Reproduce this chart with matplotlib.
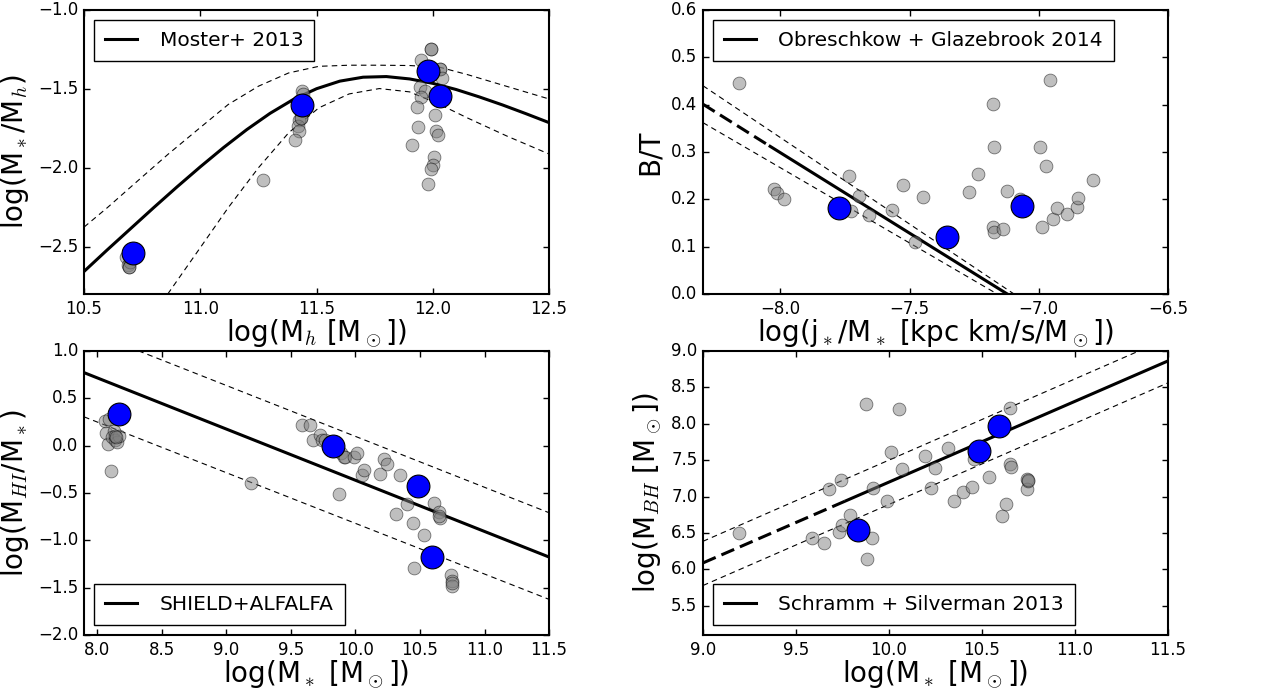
import matplotlib
matplotlib.use("Agg")
import matplotlib.pyplot as plt

plt.style.use("classic")
plt.rcParams["mathtext.fontset"] = "cm"
plt.rcParams["font.family"] = ["DejaVu Sans"]

# --- panel 1: stellar-to-halo mass ---
moster_x = [10.5, 10.6, 10.7, 10.8, 10.9, 11.0, 11.1, 11.2, 11.3, 11.4, 11.5,
            11.6, 11.7, 11.8, 11.9, 12.0, 12.1, 12.2, 12.3, 12.4, 12.5]
moster_y = [-2.657, -2.520, -2.386, -2.252, -2.121, -1.994, -1.872, -1.758, -1.655,
            -1.567, -1.499, -1.451, -1.426, -1.422, -1.437, -1.465, -1.504, -1.551,
            -1.602, -1.657, -1.714]
moster_up_x = [10.5, 10.6, 10.73, 10.86, 10.99, 11.12, 11.25, 11.38, 11.51, 11.64,
               11.77, 11.9, 12.03, 12.15, 12.32, 12.5]
moster_up_y = [-2.376, -2.253, -2.084, -1.916, -1.757, -1.599, -1.483, -1.399, -1.357,
               -1.350, -1.350, -1.352, -1.363, -1.41, -1.485, -1.564]
moster_lo_x = [10.86, 10.99, 11.12, 11.25, 11.38, 11.51, 11.64, 11.77, 11.9, 12.03,
               12.15, 12.32, 12.5]
moster_lo_y = [-2.8, -2.527, -2.253, -2.0, -1.778, -1.620, -1.532, -1.498, -1.519,
               -1.599, -1.685, -1.80, -1.913]
sim1_x = [10.681, 10.691, 10.693, 10.698, 10.693, 11.438, 11.441, 11.437, 11.431,
          11.425, 11.420, 11.423, 11.408, 11.271, 11.994, 11.994, 11.948, 12.032,
          12.032, 12.039, 11.946, 11.968, 11.951, 11.930, 12.011, 11.938, 12.013,
          12.021, 11.911, 12.006, 11.999, 11.994, 11.978, 11.437, 11.431]
sim1_y = [-2.568, -2.617, -2.627, -2.595, -2.627, -1.511, -1.532, -1.631, -1.684,
          -1.695, -1.737, -1.765, -1.822, -2.076, -1.246, -1.246, -1.316, -1.373,
          -1.373, -1.430, -1.489, -1.515, -1.553, -1.614, -1.663, -1.739, -1.765,
          -1.790, -1.854, -1.934, -1.981, -2.006, -2.102, -1.631, -1.684]
main1_x = [10.709, 11.438, 11.981, 12.030]
main1_y = [-2.538, -1.604, -1.388, -1.544]

# --- panel 2: bulge fraction vs specific angular momentum ---
og_dash_x = [-8.3, -8.04]
og_dash_y = [0.401, 0.312]
og_x = [-8.04, -7.122]
og_y = [0.312, 0.0]
og_up_x = [-8.3, -7.096]
og_up_y = [0.44, 0.0]
og_lo_x = [-8.3, -7.161]
og_lo_y = [0.362, 0.0]
sim2_x = [-8.159, -8.024, -8.013, -7.986, -7.733, -7.725, -7.694, -7.656, -7.569,
          -7.526, -7.478, -7.450, -7.270, -7.234, -7.179, -7.172, -7.179, -7.172,
          -7.138, -7.125, -7.073, -6.997, -6.973, -6.987, -6.958, -6.945, -6.931,
          -6.892, -6.853, -6.847, -6.792]
sim2_y = [0.446, 0.221, 0.213, 0.200, 0.250, 0.175, 0.207, 0.167, 0.178, 0.231,
          0.109, 0.204, 0.215, 0.254, 0.401, 0.311, 0.142, 0.132, 0.137, 0.217,
          0.200, 0.311, 0.270, 0.142, 0.452, 0.158, 0.182, 0.170, 0.183, 0.203,
          0.240]
main2_x = [-7.775, -7.357, -7.064]
main2_y = [0.181, 0.120, 0.185]

# --- panel 3: HI fraction ---
hi_x = [7.9, 11.5]
hi_y = [0.771, -1.177]
hi_up_x = [7.9, 11.5]
hi_up_y = [1.228, -0.709]
hi_lo_x = [7.9, 11.5]
hi_lo_y = [0.304, -1.624]
sim3_x = [8.064, 8.090, 8.070, 8.085, 8.111, 8.129, 8.116, 8.142, 8.155, 8.170,
          8.137, 8.149, 9.193, 9.585, 9.649, 9.675, 9.729, 9.745, 9.765, 9.876,
          9.889, 9.915, 9.920, 9.990, 10.015, 10.054, 10.070, 10.193, 10.224,
          10.242, 10.314, 10.348, 10.397, 10.443, 10.456, 10.534, 10.606, 10.649,
          10.652, 10.649, 10.740, 10.745, 10.745, 10.745]
sim3_y = [0.258, 0.286, 0.135, 0.012, -0.266, 0.156, 0.093, 0.064, 0.040, 0.103,
          0.100, 0.086, -0.393, 0.223, 0.216, 0.064, 0.110, 0.057, 0.064, -0.516,
          -0.083, -0.125, -0.125, -0.125, -0.083, -0.312, -0.256, -0.301, -0.136,
          -0.189, -0.720, -0.308, -0.614, -0.818, -1.297, -0.945, -0.607, -0.702,
          -0.766, -0.744, -1.367, -1.427, -1.483, -1.455]
main3_x = [8.170, 9.830, 10.482, 10.590]
main3_y = [0.332, -0.002, -0.428, -1.177]

# --- panel 4: black hole mass ---
bh_dash_x = [9.0, 9.77]
bh_dash_y = [6.089, 6.944]
bh_x = [9.77, 11.5]
bh_y = [6.944, 8.863]
bh_up_x = [9.0, 11.344]
bh_up_y = [6.386, 9.0]
bh_lo_x = [9.0, 11.5]
bh_lo_y = [5.779, 8.562]
sim4_x = [9.196, 9.585, 9.650, 9.677, 9.729, 9.740, 9.745, 9.790, 9.875, 9.880,
          9.907, 9.916, 9.991, 10.013, 10.056, 10.069, 10.196, 10.228, 10.245,
          10.315, 10.351, 10.397, 10.448, 10.455, 10.536, 10.607, 10.631, 10.652,
          10.652, 10.658, 10.740, 10.742, 10.745, 10.749]
sim4_y = [6.505, 6.427, 6.363, 7.102, 6.518, 7.225, 6.614, 6.742, 8.266, 6.144,
          6.436, 7.125, 6.938, 7.618, 8.202, 7.385, 7.563, 7.125, 7.399, 7.672,
          6.943, 7.066, 7.130, 7.513, 7.266, 6.737, 6.901, 8.220, 7.444, 7.412,
          7.248, 7.107, 7.216, 7.230]
main4_x = [9.835, 10.485, 10.593]
main4_y = [6.546, 7.622, 7.969]

fig = plt.figure(figsize=(12.62, 6.98), dpi=100, facecolor="white")
w, h = 0.3685, 0.4069
ax1 = fig.add_axes([0.0666, 0.5788, w, h])
ax2 = fig.add_axes([0.5570, 0.5788, w, h])
ax3 = fig.add_axes([0.0666, 0.0903, w, h])
ax4 = fig.add_axes([0.5570, 0.0903, w, h])

thin = dict(color="k", lw=0.8, dashes=(4, 3))
thick_dash = dict(color="k", lw=2.2, dashes=(10, 4.5))
gray_kw = dict(s=85, facecolor="0.5", edgecolor="k", linewidths=0.6, alpha=0.5, zorder=3)
blue_kw = dict(s=270, facecolor="b", edgecolor="k", linewidths=0.8, zorder=4)
label_fs = 20
leg_kw = dict(fontsize=14.5, fancybox=False, numpoints=1, handlelength=1.6,
              handletextpad=1.1, borderpad=0.55)


def tick_text(v):
    return ("%.1f" % v).replace("-", "\u2212")


def finish(ax, xlim, ylim, xticks, yticks):
    ax.set_xlim(xlim)
    ax.set_ylim(ylim)
    ax.set_xticks(xticks)
    ax.set_yticks(yticks)
    ax.set_xticklabels([tick_text(t) for t in xticks])
    ax.set_yticklabels([tick_text(t) for t in yticks])
    ax.tick_params(labelsize=12, direction="in", length=4, width=1, top=True, right=True)
    for sp in ax.spines.values():
        sp.set_linewidth(1.5)
    ax.set_facecolor("white")


# panel 1
ax1.plot(moster_x, moster_y, "k-", lw=2.2, label="Moster+ 2013")
ax1.plot(moster_up_x, moster_up_y, **thin)
ax1.plot(moster_lo_x, moster_lo_y, **thin)
ax1.scatter(sim1_x, sim1_y, **gray_kw)
ax1.scatter(main1_x, main1_y, **blue_kw)
finish(ax1, (10.5, 12.5), (-2.8, -1.0), [10.5, 11.0, 11.5, 12.0, 12.5],
       [-2.5, -2.0, -1.5, -1.0])
ax1.set_xlabel(r"log(M$_h$ [M$_\odot$])", fontsize=label_fs, labelpad=0)
ax1.set_ylabel(r"log(M$_*$/M$_h$)", fontsize=label_fs)
ax1.legend(loc="upper left", **leg_kw)

# panel 2
ax2.plot(og_dash_x, og_dash_y, **thick_dash)
ax2.plot(og_x, og_y, "k-", lw=2.2, label="Obreschkow + Glazebrook 2014")
ax2.plot(og_up_x, og_up_y, **thin)
ax2.plot(og_lo_x, og_lo_y, **thin)
ax2.scatter(sim2_x, sim2_y, **gray_kw)
ax2.scatter(main2_x, main2_y, **blue_kw)
finish(ax2, (-8.3, -6.5), (0.0, 0.6), [-8.0, -7.5, -7.0, -6.5],
       [0.0, 0.1, 0.2, 0.3, 0.4, 0.5, 0.6])
ax2.set_xlabel(r"log(j$_*$/M$_*$ [kpc km/s/M$_\odot$])", fontsize=label_fs, labelpad=0)
ax2.set_ylabel("B/T", fontsize=label_fs)
ax2.legend(loc="upper left", **leg_kw)

# panel 3
ax3.plot(hi_x, hi_y, "k-", lw=2.2, label="SHIELD+ALFALFA")
ax3.plot(hi_up_x, hi_up_y, **thin)
ax3.plot(hi_lo_x, hi_lo_y, **thin)
ax3.scatter(sim3_x, sim3_y, **gray_kw)
ax3.scatter(main3_x, main3_y, **blue_kw)
finish(ax3, (7.9, 11.5), (-2.0, 1.0), [8.0, 8.5, 9.0, 9.5, 10.0, 10.5, 11.0, 11.5],
       [-2.0, -1.5, -1.0, -0.5, 0.0, 0.5, 1.0])
ax3.set_xlabel(r"log(M$_*$ [M$_\odot$])", fontsize=label_fs, labelpad=0)
ax3.set_ylabel(r"log(M$_{HI}$/M$_*$)", fontsize=label_fs)
ax3.legend(loc="lower left", **leg_kw)

# panel 4
ax4.plot(bh_dash_x, bh_dash_y, **thick_dash)
ax4.plot(bh_x, bh_y, "k-", lw=2.2, label="Schramm + Silverman 2013")
ax4.plot(bh_up_x, bh_up_y, **thin)
ax4.plot(bh_lo_x, bh_lo_y, **thin)
ax4.scatter(sim4_x, sim4_y, **gray_kw)
ax4.scatter(main4_x, main4_y, **blue_kw)
finish(ax4, (9.0, 11.5), (5.1, 9.0), [9.0, 9.5, 10.0, 10.5, 11.0, 11.5],
       [5.5, 6.0, 6.5, 7.0, 7.5, 8.0, 8.5, 9.0])
ax4.set_xlabel(r"log(M$_*$ [M$_\odot$])", fontsize=label_fs, labelpad=0)
ax4.set_ylabel(r"log(M$_{BH}$ [M$_\odot$])", fontsize=label_fs)
ax4.legend(loc="lower left", **leg_kw)

fig.savefig("out.png", dpi=100, facecolor="white")
